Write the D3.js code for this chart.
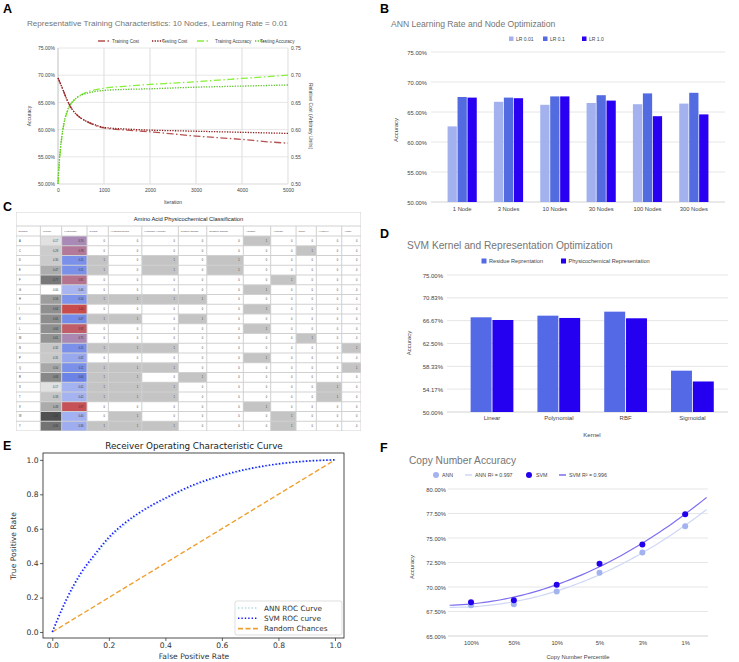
<!DOCTYPE html>
<html><head><meta charset="utf-8">
<script src="https://cdn.jsdelivr.net/npm/d3@7"></script>
<style>body{margin:0;background:#fff;} svg{display:block;}</style>
</head><body><svg id="c" width="739" height="662"></svg>
<script>
// ---------------- DATA ----------------
// Panel A
const iterations = [0, 25, 50, 100, 150, 200, 300, 400, 500, 600, 800, 1000, 1500, 2000, 2500, 3000, 3500, 4000, 4500, 5000];
const trainAcc = [0.500,0.535,0.560,0.595,0.618,0.632,0.649,0.658,0.664,0.668,0.673,0.676,0.680,0.683,0.6855,0.688,0.691,0.694,0.697,0.700];
const testAcc  = [0.500,0.538,0.563,0.598,0.620,0.634,0.650,0.658,0.663,0.666,0.670,0.672,0.674,0.675,0.6765,0.678,0.679,0.680,0.681,0.682];
const trainCost = [0.695,0.690,0.685,0.675,0.664,0.654,0.638,0.628,0.621,0.616,0.608,0.603,0.599,0.596,0.592,0.588,0.585,0.582,0.578,0.575];
const testCost  = [0.695,0.690,0.685,0.675,0.664,0.654,0.638,0.628,0.621,0.616,0.609,0.604,0.601,0.599,0.598,0.597,0.596,0.595,0.594,0.593];
const accTicksA = [0.50,0.55,0.60,0.65,0.70,0.75];
const costTicksA = [0.50,0.55,0.60,0.65,0.70,0.75];
const iterTicks = [0,1000,2000,3000,4000,5000];

// Panel B
const nodeCats = ["1 Node","3 Nodes","10 Nodes","30 Nodes","100 Nodes","300 Nodes"];
const lrNames = ["LR 0.01","LR 0.1","LR 1.0"];
const lr001 = [0.626,0.667,0.662,0.665,0.663,0.664];
const lr01  = [0.675,0.674,0.676,0.678,0.681,0.682];
const lr10  = [0.674,0.673,0.676,0.669,0.643,0.646];
const accTicksB = [0.50,0.55,0.60,0.65,0.70,0.75];

// Panel C
const residues = ["A","C","D","E","F","G","H","I","K","L","M","N","P","Q","R","S","T","V","W","Y"];
const volume = [0.17,0.29,0.30,0.47,0.77,0.00,0.56,0.64,0.65,0.64,0.61,0.32,0.31,0.50,0.68,0.17,0.33,0.48,1.00,0.80];
const hydropathy = [0.70,0.78,0.11,0.11,0.81,0.46,0.14,1.00,0.07,0.92,0.71,0.11,0.32,0.11,0.00,0.41,0.42,0.97,0.40,0.36];
const polarity  = [0,0,1,1,0,0,1,0,1,0,0,1,0,1,1,1,1,0,0,1];
const hDonor    = [0,0,0,0,0,0,1,0,1,0,0,1,0,1,1,1,1,0,1,1];
const hAcceptor = [0,0,1,1,0,0,1,0,0,0,0,1,0,1,0,1,1,0,0,1];
const posCharge = [0,0,0,0,0,0,1,0,1,0,0,0,0,0,1,0,0,0,0,0];
const negCharge = [0,0,1,1,0,0,0,0,0,0,0,0,0,0,0,0,0,0,0,0];
const aliphatic = [1,0,0,0,0,1,0,1,0,1,0,0,1,0,0,0,0,1,0,0];
const aromatic  = [0,0,0,0,1,0,0,0,0,0,0,0,0,0,0,0,0,0,1,1];
const sulfur    = [0,1,0,0,0,0,0,0,0,0,1,0,0,0,0,0,0,0,0,0];
const hydroxyl  = [0,0,0,0,0,0,0,0,0,0,0,0,0,0,0,1,1,0,0,0];
const amide     = [0,0,0,0,0,0,0,0,0,0,0,1,0,1,0,0,0,0,0,0];
const colNames = ["Residue","Volume","Hydropathy","Polarity","Hydrogen Donor","Hydrogen Acceptor","Positive Charge","Negative Charge","Aliphatic","Aromatic","Sulfur","Hydroxyl","Amide"];

// Panel D
const kernels = ["Linear","Polynomial","RBF","Sigmoidal"];
const repNames = ["Residue Reprentation","Physicochemical Representation"];
const residueRep = [0.6728,0.6758,0.6831,0.5754];
const physicoRep = [0.6679,0.6716,0.6710,0.5557];
const accTicksD = [0.50,0.5417,0.5833,0.6250,0.6667,0.7083,0.75];

// Panel E
const fpr    = [0,0.02,0.05,0.1,0.15,0.2,0.25,0.3,0.35,0.4,0.5,0.6,0.7,0.8,0.9,1.0];
const svmTpr = [0,0.08,0.19,0.34,0.45,0.55,0.625,0.685,0.735,0.778,0.855,0.91,0.95,0.977,0.993,1.0];
const annTpr = [0,0.075,0.18,0.33,0.44,0.54,0.615,0.68,0.73,0.772,0.85,0.905,0.947,0.975,0.992,1.0];
const randomX = [0,1];
const rocTicks = [0,0.2,0.4,0.6,0.8,1.0];

// Panel F
const copyCats = ["100%","50%","10%","5%","3%","1%"];
const annCopy = [0.6813,0.6824,0.6953,0.7146,0.7353,0.7621];
const svmCopy = [0.6844,0.6864,0.7024,0.7237,0.7434,0.7743];
const annR2 = 0.997, svmR2 = 0.996;
const accTicksF = [0.65,0.675,0.70,0.725,0.75,0.775,0.80];

// ---------------- DRAW ----------------
const SANS = "Arial, 'Liberation Sans', sans-serif";
const DEJ = "'DejaVu Sans', sans-serif";
const svg = d3.select("#c");
svg.append("rect").attr("width",739).attr("height",662).attr("fill","#fff");
const pct = d3.format(".2%");

function txt(g, x, y, s, o = {}) {
  const t = g.append("text").attr("x", x).attr("y", y).text(s)
    .attr("font-size", o.size || 6).attr("fill", o.fill || "#444")
    .attr("font-family", o.family || SANS)
    .attr("text-anchor", o.anchor || "start");
  if (o.weight) t.attr("font-weight", o.weight);
  if (o.rotate) t.attr("transform", `rotate(${o.rotate},${x},${y})`);
  return t;
}
function hgrid(g, scale, x1, x2, vals, base) {
  g.append("g").selectAll("line").data(vals).join("line")
    .attr("x1", x1).attr("x2", x2)
    .attr("y1", d => scale(d)).attr("y2", d => scale(d))
    .attr("stroke", (d, i) => (i === 0 && base) ? base : "#e0e0e0").attr("stroke-width", 0.8);
}
function yAx(g, scale, x, vals, fmt, size, right) {
  const ax = g.append("g").attr("transform", `translate(${x},0)`)
    .call((right ? d3.axisRight : d3.axisLeft)(scale).tickValues(vals).tickFormat(fmt).tickSize(0).tickPadding(0));
  ax.select(".domain").remove();
  ax.selectAll("text").attr("font-size", size).attr("fill", "#444").attr("font-family", SANS);
  return ax;
}
function xAx(g, scale, y, vals, fmt, size) {
  const ax = g.append("g").attr("transform", `translate(0,${y})`)
    .call(d3.axisBottom(scale).tickValues(vals).tickFormat(fmt).tickSize(0).tickPadding(0));
  ax.select(".domain").remove();
  ax.selectAll("text").attr("font-size", size).attr("fill", "#444").attr("font-family", SANS);
  return ax;
}

// panel letters
[["A",3,13],["B",380,13],["C",3,211],["D",380,238],["E",3,450],["F",380,452]].forEach(d =>
  txt(svg, d[1], d[2], d[0], {size: 12.5, weight: "bold", fill: "#000"}));

// ===== Panel A =====
{
  const g = svg.append("g");
  const x = d3.scaleLinear().domain([0, 5000]).range([58, 288]);
  const y = d3.scaleLinear().domain([0.5, 0.75]).range([184, 48]);
  const y2 = d3.scaleLinear().domain([0.5, 0.75]).range([184, 48]);
  hgrid(g, y, 58, 288, accTicksA, "#cfcfcf");
  g.append("g").selectAll("line").data(iterTicks.slice(1)).join("line")
    .attr("x1", d => x(d)).attr("x2", d => x(d)).attr("y1", 48).attr("y2", 184)
    .attr("stroke", "#e2e2e2").attr("stroke-width", 1.2);
  g.append("line").attr("x1", 58).attr("x2", 58).attr("y1", 48).attr("y2", 184).attr("stroke", "#b0b0b0").attr("stroke-width", 0.8);
  yAx(g, y, 55, accTicksA, pct, 5, false).selectAll("text").attr("dy", "0.35em");
  yAx(g, y2, 291, costTicksA, d3.format(".2f"), 5, true).selectAll("text").attr("dy", "0.35em");
  xAx(g, x, 188, iterTicks, d3.format("d"), 5).selectAll("text").attr("dy", "0.71em");
  txt(g, 27, 26, "Representative Training Characteristics: 10 Nodes, Learning Rate = 0.01", {size: 8.1, fill: "#757575"});
  txt(g, 173, 204, "Iteration", {size: 5, anchor: "middle"});
  txt(g, 31, 116, "Accuracy", {size: 5, anchor: "middle", rotate: -90});
  txt(g, 309, 116, "Relative Cost  (Arbitrary Units)", {size: 5, anchor: "middle", rotate: 90});
  const series = [
    {v: trainCost, sc: y2, c: "#b5514f", dash: "7,2.5,1.5,2.5", name: "Training Cost"},
    {v: testCost, sc: y2, c: "#8e1c1c", dash: "1.3,1.3", name: "Testing Cost"},
    {v: trainAcc, sc: y, c: "#86f03a", dash: "7,2.5,1.5,2.5", name: "Training Accuracy"},
    {v: testAcc, sc: y, c: "#5ec22a", dash: "1.3,1.3", name: "Testing Accuracy"}
  ];
  series.forEach(s => {
    const line = d3.line().x((d, i) => x(iterations[i])).y(d => s.sc(d)).curve(d3.curveMonotoneX);
    g.append("path").attr("d", line(s.v)).attr("fill", "none").attr("stroke", s.c)
      .attr("stroke-width", 1.3).attr("stroke-dasharray", s.dash);
  });
  const lx = [98, 152, 197, 255], tx = [112, 162, 215, 260];
  series.forEach((s, i) => {
    g.append("line").attr("x1", lx[i]).attr("x2", lx[i] + 11).attr("y1", 41).attr("y2", 41)
      .attr("stroke", s.c).attr("stroke-width", 1.3).attr("stroke-dasharray", s.dash);
    txt(g, tx[i], 42.8, s.name, {size: 4.6});
  });
}

// ===== Panel B =====
{
  const g = svg.append("g");
  const x = d3.scaleBand().domain(nodeCats).range([439, 717]).paddingInner(0.37).paddingOuter(0.185);
  const xs = d3.scaleBand().domain(lrNames).range([0, x.bandwidth()]).paddingInner(0.07);
  const y = d3.scaleLinear().domain([0.5, 0.75]).range([202, 52]);
  const cols = ["#a3b2ef", "#536be0", "#2a00f2"];
  hgrid(g, y, 431, 725, accTicksB, "#c8c8c8");
  yAx(g, y, 427, accTicksB, pct, 5.8, false).selectAll("text").attr("dy", "0.35em");
  xAx(g, x, 207, nodeCats, d => d, 5.8).selectAll("text").attr("dy", "0.71em");
  txt(g, 391, 27, "ANN Learning Rate and Node Optimization", {size: 8.6, fill: "#757575"});
  txt(g, 398, 130, "Accuracy", {size: 5.8, anchor: "middle", rotate: -90});
  const vals = [lr001, lr01, lr10];
  vals.forEach((arr, k) => {
    g.append("g").selectAll("rect").data(arr).join("rect")
      .attr("x", (d, i) => x(nodeCats[i]) + xs(lrNames[k])).attr("width", xs.bandwidth())
      .attr("y", d => y(d)).attr("height", d => y(0.5) - y(d)).attr("fill", cols[k]);
  });
  const sx = [509, 543, 582];
  lrNames.forEach((n, k) => {
    g.append("rect").attr("x", sx[k]).attr("y", 36.5).attr("width", 4.5).attr("height", 4.5).attr("fill", cols[k]);
    txt(g, sx[k] + 7, 40.8, n, {size: 5});
  });
}

// ===== Panel C (table) =====
{
  const g = svg.append("g");
  const binaries = [polarity, hDonor, hAcceptor, posCharge, negCharge, aliphatic, aromatic, sulfur, hydroxyl, amide];
  const wRaw = [24, 21, 25, 21, 33, 36, 28, 36, 27, 25, 20, 25, 19];
  const tot = d3.sum(wRaw);
  const x0 = 16, x1 = 361, yT = 212, yH = 226, yR = 236, rowH = 9.75;
  const fx = d3.scaleLinear().domain([0, tot]).range([x0, x1]);
  const cx = [0]; wRaw.forEach(w => cx.push(cx[cx.length - 1] + w));
  const volCol = d3.scaleLinear().domain([0, 1]).range(["#ffffff", "#505050"]);
  const hydCol = d3.scaleLinear().domain([0, 0.45, 0.7, 1]).range(["#6b83e6", "#a9b7f2", "#a98ab6", "#c94c4c"]);
  g.append("rect").attr("x", x0).attr("y", yT).attr("width", x1 - x0).attr("height", yR + rowH * 20 - yT)
    .attr("fill", "#d0d0d0");
  g.append("rect").attr("x", x0 + 0.5).attr("y", yT + 0.5).attr("width", x1 - x0 - 1).attr("height", yH - yT - 1).attr("fill", "#fff");
  txt(g, (x0 + x1) / 2, yT + 9.3, "Amino Acid Physicochemical Classification", {size: 5.8, anchor: "middle", fill: "#222"});
  colNames.forEach((n, j) => {
    g.append("rect").attr("x", fx(cx[j]) + 0.5).attr("y", yH + 0.5).attr("width", fx(cx[j + 1]) - fx(cx[j]) - 1)
      .attr("height", yR - yH - 1).attr("fill", "#fff");
    txt(g, fx(cx[j]) + 2.5, yH + 6, n, {size: 2.5, fill: "#444"});
  });
  residues.forEach((r, i) => {
    const yy = yR + i * rowH;
    const cells = [
      {fill: "#fff", t: r, left: true},
      {fill: volCol(volume[i]), t: d3.format(".2f")(volume[i])},
      {fill: hydCol(hydropathy[i]), t: d3.format(".2f")(hydropathy[i])}
    ].concat(binaries.map(b => ({fill: b[i] ? "#c4c4c4" : "#fff", t: String(b[i])})));
    cells.forEach((c, j) => {
      const xa = fx(cx[j]), xb = fx(cx[j + 1]);
      g.append("rect").attr("x", xa + 0.5).attr("y", yy + 0.5).attr("width", xb - xa - 1).attr("height", rowH - 1).attr("fill", c.fill);
      if (c.left) txt(g, xa + 3, yy + 5.8, c.t, {size: 2.6, fill: "#333"});
      else txt(g, xb - 3.5, yy + 5.8, c.t, {size: 2.6, fill: "#333", anchor: "end"});
    });
  });
}

// ===== Panel D =====
{
  const g = svg.append("g");
  const x = d3.scaleBand().domain(kernels).range([458.6, 725.8]).paddingInner(0.36).paddingOuter(0.18);
  const xs = d3.scaleBand().domain(repNames).range([0, x.bandwidth()]).paddingInner(0.04);
  const y = d3.scaleLinear().domain([0.5, 0.75]).range([412, 275]);
  const cols = ["#5469e6", "#2500f0"];
  hgrid(g, y, 447, 728, accTicksD, "#c8c8c8");
  yAx(g, y, 443, accTicksD, pct, 6, false).selectAll("text").attr("dy", "0.35em");
  xAx(g, x, 416, kernels, d => d, 6).selectAll("text").attr("dy", "0.71em");
  txt(g, 407, 249, "SVM Kernel and Representation Optimization", {size: 10.2, fill: "#757575"});
  txt(g, 411, 343, "Accuracy", {size: 6, anchor: "middle", rotate: -90});
  txt(g, 592, 437, "Kernel", {size: 6, anchor: "middle"});
  [residueRep, physicoRep].forEach((arr, k) => {
    g.append("g").selectAll("rect").data(arr).join("rect")
      .attr("x", (d, i) => x(kernels[i]) + xs(repNames[k])).attr("width", xs.bandwidth())
      .attr("y", d => y(d)).attr("height", d => y(0.5) - y(d)).attr("fill", cols[k]);
  });
  const sx = [481.5, 561];
  repNames.forEach((n, k) => {
    g.append("rect").attr("x", sx[k]).attr("y", 258.5).attr("width", 5).attr("height", 5).attr("fill", cols[k]);
    txt(g, sx[k] + 7.5, 263.2, n, {size: 5.6});
  });
}

// ===== Panel E =====
{
  const g = svg.append("g");
  const x = d3.scaleLinear().domain([-0.033, 1.032]).range([43, 344]);
  const y = d3.scaleLinear().domain([-0.035, 1.04]).range([638, 453]);
  const line = d3.line().x(d => x(d[0])).y(d => y(d[1])).curve(d3.curveMonotoneX);
  g.append("path").attr("d", line(randomX.map(v => [v, v]))).attr("fill", "none")
    .attr("stroke", "#f0a030").attr("stroke-width", 1.4).attr("stroke-dasharray", "5,2.5");
  g.append("path").attr("d", line(fpr.map((v, i) => [v, annTpr[i]]))).attr("fill", "none")
    .attr("stroke", "#add8e6").attr("stroke-width", 1.7).attr("stroke-dasharray", "1.4,2");
  g.append("path").attr("d", line(fpr.map((v, i) => [v, svmTpr[i]]))).attr("fill", "none")
    .attr("stroke", "#1a1aff").attr("stroke-width", 1.7).attr("stroke-dasharray", "1.4,2");
  g.append("rect").attr("x", 43).attr("y", 453).attr("width", 301).attr("height", 185)
    .attr("fill", "none").attr("stroke", "#222").attr("stroke-width", 0.8);
  const ax = g.append("g").attr("transform", "translate(0,638)")
    .call(d3.axisBottom(x).tickValues(rocTicks).tickFormat(d3.format(".1f")).tickSize(3).tickPadding(1.5));
  ax.select(".domain").remove();
  ax.selectAll("line").attr("stroke", "#222").attr("stroke-width", 0.7);
  ax.selectAll("text").attr("font-size", 7.6).attr("fill", "#333").attr("font-family", DEJ);
  const ay = g.append("g").attr("transform", "translate(43,0)")
    .call(d3.axisLeft(y).tickValues(rocTicks).tickFormat(d3.format(".1f")).tickSize(3).tickPadding(1.5));
  ay.select(".domain").remove();
  ay.selectAll("line").attr("stroke", "#222").attr("stroke-width", 0.7);
  ay.selectAll("text").attr("font-size", 7.6).attr("fill", "#333").attr("font-family", DEJ);
  txt(g, 194, 449, "Receiver Operating Characteristic Curve", {size: 8.8, anchor: "middle", fill: "#222", family: DEJ});
  txt(g, 194, 659, "False Positive Rate", {size: 7.6, anchor: "middle", fill: "#333", family: DEJ});
  txt(g, 16, 546, "True Positive Rate", {size: 7.6, anchor: "middle", fill: "#333", family: DEJ, rotate: -90});
  g.append("rect").attr("x", 235).attr("y", 601).attr("width", 107).attr("height", 34).attr("rx", 2)
    .attr("fill", "#fff").attr("fill-opacity", 0.85).attr("stroke", "#d0d0d0").attr("stroke-width", 0.7);
  const leg = [
    {n: "ANN ROC Curve", c: "#add8e6", dash: "1.4,2"},
    {n: "SVM ROC curve", c: "#1a1aff", dash: "1.4,2"},
    {n: "Random Chances", c: "#f0a030", dash: "5,2.5"}
  ];
  leg.forEach((l, i) => {
    const yy = 608 + i * 10.3;
    g.append("line").attr("x1", 238).attr("x2", 258).attr("y1", yy).attr("y2", yy)
      .attr("stroke", l.c).attr("stroke-width", 1.6).attr("stroke-dasharray", l.dash);
    txt(g, 264, yy + 2.7, l.n, {size: 7.3, fill: "#333", family: DEJ});
  });
}

// ===== Panel F =====
{
  const g = svg.append("g");
  const x = d3.scalePoint().domain(copyCats).range([449.6, 706.6]).padding(0.5);
  const xi = d3.scaleLinear().domain([-0.5, 5.5]).range([449.6, 706.6]);
  const y = d3.scaleLinear().domain([0.65, 0.80]).range([636, 489]);
  hgrid(g, y, 448, 708, accTicksF, "#c8c8c8");
  yAx(g, y, 446, accTicksF, pct, 5.8, false).selectAll("text").attr("dy", "0.35em");
  xAx(g, x, 641, copyCats, d => d, 5.8).selectAll("text").attr("dy", "0.71em");
  txt(g, 409, 464, "Copy Number Accuracy", {size: 10.2, fill: "#757575"});
  txt(g, 414, 567, "Accuracy", {size: 5.8, anchor: "middle", rotate: -90});
  txt(g, 578, 659, "Copy Number Percentile", {size: 5.8, anchor: "middle"});
  // quadratic least-squares trend line through the data
  function quadFit(vals) {
    let S = [0, 0, 0, 0, 0], T = [0, 0, 0];
    vals.forEach((v, i) => {
      for (let p = 0; p < 5; p++) S[p] += Math.pow(i, p);
      for (let p = 0; p < 3; p++) T[p] += v * Math.pow(i, p);
    });
    const M = [[S[0], S[1], S[2], T[0]], [S[1], S[2], S[3], T[1]], [S[2], S[3], S[4], T[2]]];
    for (let c = 0; c < 3; c++) {
      for (let r = c + 1; r < 3; r++) {
        const f = M[r][c] / M[c][c];
        for (let k = c; k < 4; k++) M[r][k] -= f * M[c][k];
      }
    }
    const s = [0, 0, 0];
    for (let r = 2; r >= 0; r--) {
      let v = M[r][3];
      for (let k = r + 1; k < 3; k++) v -= M[r][k] * s[k];
      s[r] = v / M[r][r];
    }
    return t => s[0] + s[1] * t + s[2] * t * t;
  }
  const ts = d3.range(-0.5, 5.5001, 0.1);
  const tl = d3.line().x(d => xi(d[0])).y(d => y(d[1]));
  const fa = quadFit(annCopy), fs = quadFit(svmCopy);
  g.append("path").attr("d", tl(ts.map(t => [t, fa(t)]))).attr("fill", "none").attr("stroke", "#cfd7f6").attr("stroke-width", 1.2);
  g.append("path").attr("d", tl(ts.map(t => [t, fs(t)]))).attr("fill", "none").attr("stroke", "#7c6ef0").attr("stroke-width", 1.2);
  g.append("g").selectAll("circle").data(annCopy).join("circle")
    .attr("cx", (d, i) => x(copyCats[i])).attr("cy", d => y(d)).attr("r", 3).attr("fill", "#a3b3ef");
  g.append("g").selectAll("circle").data(svmCopy).join("circle")
    .attr("cx", (d, i) => x(copyCats[i])).attr("cy", d => y(d)).attr("r", 3).attr("fill", "#2200ee");
  // legend
  g.append("circle").attr("cx", 436).attr("cy", 475).attr("r", 3).attr("fill", "#a3b3ef");
  txt(g, 442, 477, "ANN", {size: 5.3});
  g.append("line").attr("x1", 465).attr("x2", 472).attr("y1", 475).attr("y2", 475).attr("stroke", "#cfd7f6").attr("stroke-width", 1.5);
  txt(g, 475, 477, "ANN R\u00b2 = " + annR2, {size: 5.3});
  g.append("circle").attr("cx", 529).attr("cy", 475).attr("r", 3).attr("fill", "#2200ee");
  txt(g, 536, 477, "SVM", {size: 5.3});
  g.append("line").attr("x1", 559).attr("x2", 566).attr("y1", 475).attr("y2", 475).attr("stroke", "#7c6ef0").attr("stroke-width", 1.5);
  txt(g, 569, 477, "SVM R\u00b2 = " + svmR2, {size: 5.3});
}
</script></body></html>
